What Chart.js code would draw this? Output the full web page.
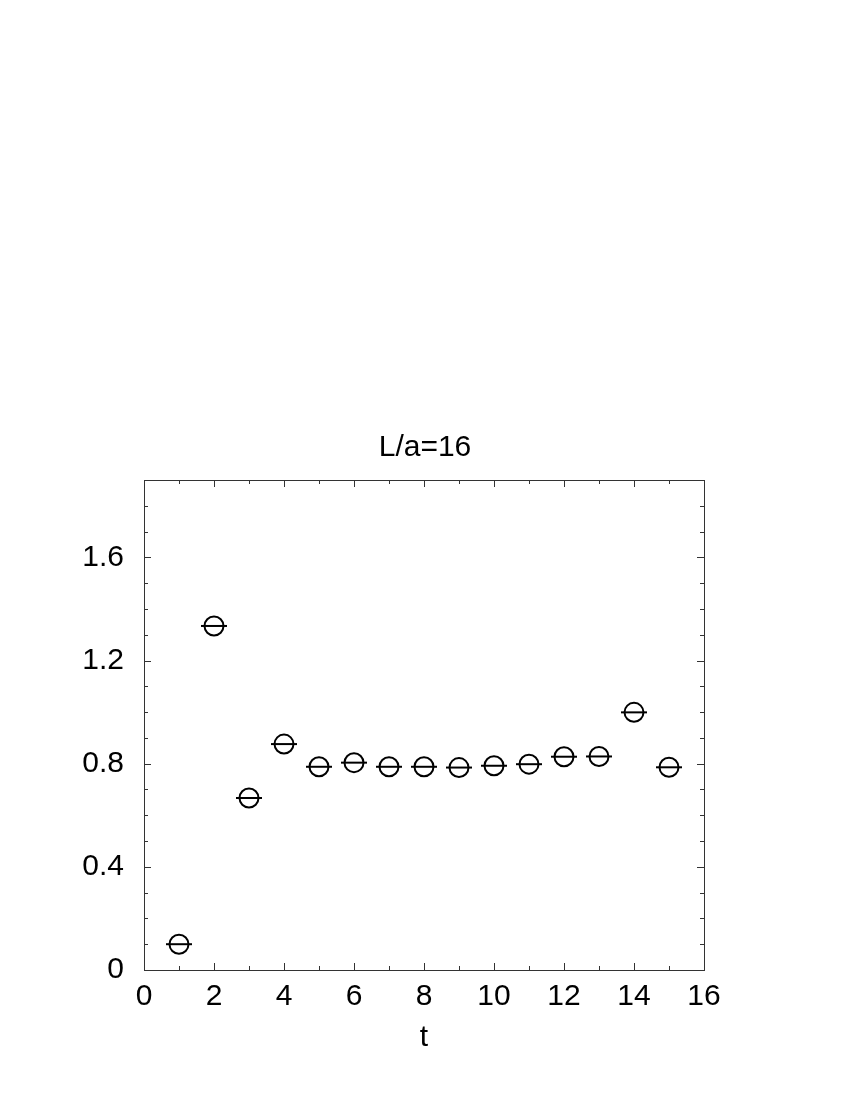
<!DOCTYPE html>
<html lang="en">
<head>
    <meta charset="UTF-8">
    <script src="https://cdn.jsdelivr.net/npm/chart.js"></script>
    <style>
        body {
            margin: 0;
            padding: 0;
            background: #ffffff;
        }
        #wrap {
            width: 850px;
            height: 1100px;
        }
    </style>
</head>
<body>
    <div id="wrap">
        <canvas id="plot" width="850" height="1100"></canvas>
    </div>
    <script>
        // data
        const tValues = [1, 2, 3, 4, 5, 6, 7, 8, 9, 10, 11, 12, 13, 14, 15];
        const effValues = [0.100, 1.334, 0.667, 0.876, 0.788, 0.804, 0.788, 0.788, 0.785, 0.792, 0.798, 0.827, 0.828, 0.999, 0.786];

        // tick labels / tick marks
        const xMajorTicks = [0, 2, 4, 6, 8, 10, 12, 14, 16];
        const xMinorTicks = [1, 3, 5, 7, 9, 11, 13, 15];
        const yMajorTicks = [0, 0.4, 0.8, 1.2, 1.6];
        const yMinorTicks = [0.1, 0.2, 0.3, 0.5, 0.6, 0.7, 0.9, 1.0, 1.1, 1.3, 1.4, 1.5, 1.7, 1.8];

        const points = tValues.map((t, i) => ({ x: t, y: effValues[i] }));
        const FONT = 'Liberation Sans, Arial, Helvetica, sans-serif';

        // frame + inward ticks on all four sides
        const frameTicks = {
            id: 'frameTicks',
            afterDraw(chart) {
                const { ctx, chartArea: a, scales } = chart;
                const xs = scales.x, ys = scales.y;
                ctx.save();
                ctx.strokeStyle = '#333';
                ctx.lineWidth = 1;
                ctx.strokeRect(a.left + 0.5, a.top + 0.5, a.right - a.left, a.bottom - a.top);
                ctx.beginPath();
                const xTick = (v, len) => {
                    const px = Math.round(xs.getPixelForValue(v)) + 0.5;
                    ctx.moveTo(px, a.bottom); ctx.lineTo(px, a.bottom - len);
                    ctx.moveTo(px, a.top); ctx.lineTo(px, a.top + len);
                };
                const yTick = (v, len) => {
                    const py = Math.round(ys.getPixelForValue(v)) + 0.5;
                    ctx.moveTo(a.left, py); ctx.lineTo(a.left + len, py);
                    ctx.moveTo(a.right, py); ctx.lineTo(a.right - len, py);
                };
                xMajorTicks.forEach(v => xTick(v, 7));
                xMinorTicks.forEach(v => xTick(v, 4));
                yMajorTicks.forEach(v => yTick(v, 7));
                yMinorTicks.forEach(v => yTick(v, 4));
                ctx.stroke();
                ctx.restore();
            }
        };

        const ctx = document.getElementById('plot').getContext('2d');
        const chart = new Chart(ctx, {
            type: 'scatter',
            data: {
                datasets: [
                    {
                        label: 'bar',
                        data: points,
                        pointStyle: 'line',
                        pointRadius: 13,
                        pointHoverRadius: 13,
                        borderColor: '#000',
                        borderWidth: 2,
                        showLine: false
                    },
                    {
                        label: 'circle',
                        data: points,
                        pointStyle: 'circle',
                        pointRadius: 9.5,
                        pointHoverRadius: 9.5,
                        borderColor: '#000',
                        backgroundColor: 'rgba(0,0,0,0)',
                        borderWidth: 2,
                        showLine: false
                    }
                ]
            },
            options: {
                responsive: false,
                animation: false,
                layout: { padding: 0 },
                plugins: {
                    legend: { display: false },
                    tooltip: { enabled: false },
                    title: {
                        display: true,
                        text: 'L/a=16',
                        color: '#000',
                        font: { family: FONT, size: 30, weight: 'normal' },
                        padding: { top: 430, bottom: 14 }
                    }
                },
                scales: {
                    x: {
                        type: 'linear',
                        min: 0,
                        max: 16,
                        grid: { display: false, drawTicks: false },
                        border: { display: false },
                        afterBuildTicks: s => { s.ticks = xMajorTicks.map(v => ({ value: v })); },
                        afterFit: s => { s.height = 130; },
                        ticks: {
                            color: '#000',
                            padding: 9,
                            maxRotation: 0,
                            font: { family: FONT, size: 30 }
                        },
                        title: {
                            display: true,
                            text: 't',
                            color: '#000',
                            font: { family: FONT, size: 30 },
                            padding: { top: 0, bottom: 44 }
                        }
                    },
                    y: {
                        type: 'linear',
                        min: 0,
                        max: 1.9,
                        grid: { display: false, drawTicks: false },
                        border: { display: false },
                        afterBuildTicks: s => { s.ticks = yMajorTicks.map(v => ({ value: v })); },
                        afterFit: s => { s.width = 144; },
                        ticks: {
                            color: '#000',
                            padding: 20,
                            font: { family: FONT, size: 30 },
                            callback: v => String(v)
                        }
                    },
                    yRight: {
                        type: 'linear',
                        position: 'right',
                        min: 0,
                        max: 1.9,
                        grid: { display: false, drawTicks: false },
                        border: { display: false },
                        ticks: { display: false },
                        afterFit: s => { s.width = 146; }
                    }
                }
            },
            plugins: [frameTicks]
        });
    </script>
</body>
</html>
